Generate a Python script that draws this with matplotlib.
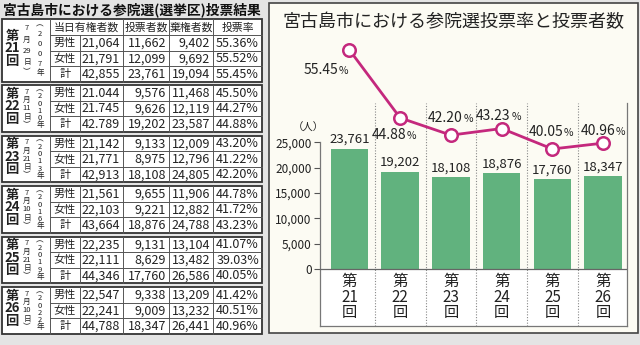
import matplotlib
matplotlib.use("Agg")
import matplotlib.pyplot as plt
from matplotlib.patches import Rectangle
import numpy as np

plt.rcParams["font.family"] = ["Noto Sans CJK JP", "DejaVu Sans"]

# 回次と投票日
ROUNDS = [21, 22, 23, 24, 25, 26]
YEARS = ["2007", "2010", "2013", "2016", "2019", "2022"]
MONTHS = ["7", "7", "7", "7", "7", "7"]
DAYS = ["29", "11", "21", "10", "21", "10"]

HEADERS = ["当日有権者数", "投票者数", "棄権者数", "投票率"]
ROW_NAMES = ["男性", "女性", "計"]

# 各回: 男性・女性・計 × (当日有権者数, 投票者数, 棄権者数, 投票率)
TABLE_21 = [["21,064", "11,662", "9,402", "55.36%"],
            ["21,791", "12,099", "9,692", "55.52%"],
            ["42,855", "23,761", "19,094", "55.45%"]]
TABLE_22 = [["21.044", "9,576", "11,468", "45.50%"],
            ["21.745", "9,626", "12,119", "44.27%"],
            ["42.789", "19,202", "23,587", "44.88%"]]
TABLE_23 = [["21,142", "9,133", "12,009", "43.20%"],
            ["21,771", "8,975", "12,796", "41.22%"],
            ["42,913", "18,108", "24,805", "42.20%"]]
TABLE_24 = [["21,561", "9,655", "11,906", "44.78%"],
            ["22,103", "9,221", "12,882", "41.72%"],
            ["43,664", "18,876", "24,788", "43.23%"]]
TABLE_25 = [["22,235", "9,131", "13,104", "41.07%"],
            ["22,111", "8,629", "13,482", "39.03%"],
            ["44,346", "17,760", "26,586", "40.05%"]]
TABLE_26 = [["22,547", "9,338", "13,209", "41.42%"],
            ["22,241", "9,009", "13,232", "40.51%"],
            ["44,788", "18,347", "26,441", "40.96%"]]
TABLES = [TABLE_21, TABLE_22, TABLE_23, TABLE_24, TABLE_25, TABLE_26]

# グラフ用 (計)
VOTERS_TOTAL = [23761, 19202, 18108, 18876, 17760, 18347]
TURNOUT_TOTAL = [55.45, 44.88, 42.20, 43.23, 40.05, 40.96]
Y_TICKS = [0, 5000, 10000, 15000, 20000, 25000]

GREEN = "#61b27e"
MAGENTA = "#c4287d"
INK = "#222222"
RULE = "#555555"

fig = plt.figure(figsize=(6.4, 3.45), dpi=100)
fig.patch.set_facecolor("#e4e4e4")

# ピクセル座標の下地
bg = fig.add_axes([0, 0, 1, 1])
bg.set_xlim(0, 640)
bg.set_ylim(345, 0)
bg.axis("off")

# ---- 左: 投票結果の表 ----
bg.text(3, 10, "宮古島市における参院選(選挙区)投票結果", fontsize=9.9,
        fontweight="bold", ha="left", va="center", color="#111")

cols = [2, 50, 80, 123, 169, 213, 262]
tops = [19, 85, 135.5, 186, 236.5, 287]
head_h, row_h = 16, 15.5

for b, (top, tbl) in enumerate(zip(tops, TABLES)):
    has_head = b == 0
    data_top = top + (head_h if has_head else 0)
    bottom = data_top + 3 * row_h
    bg.add_patch(Rectangle((cols[0], top), cols[-1] - cols[0], bottom - top,
                           facecolor="white", edgecolor="#333", lw=1.3, zorder=1))
    # 縦罫
    for x in cols[1:-1]:
        y0 = data_top if x == cols[2] else top
        bg.plot([x, x], [y0, bottom], color=RULE, lw=0.7, zorder=2)
    # 横罫
    ys = [data_top + i * row_h for i in range(1, 3)]
    if has_head:
        ys.append(data_top)
    for y in ys:
        bg.plot([cols[1], cols[-1]], [y, y], color=RULE, lw=0.7, zorder=2)

    if has_head:
        for c, h in enumerate(HEADERS):
            x0 = cols[1] if c == 0 else cols[c + 2]
            bg.text((x0 + cols[c + 3]) / 2, top + head_h / 2 + 0.5, h,
                    fontsize=7.8, ha="center", va="center", color=INK, zorder=3)

    for r, (name, vals) in enumerate(zip(ROW_NAMES, tbl)):
        yc = data_top + (r + 0.5) * row_h + 0.5
        bg.text((cols[1] + cols[2]) / 2, yc, name, fontsize=8,
                ha="center", va="center", color=INK, zorder=3)
        for c, v in enumerate(vals):
            bg.text(cols[c + 3] - 3, yc, v, fontsize=9, ha="right",
                    va="center", color=INK, zorder=3)

    # 回次と日付 (縦書き)
    h = bottom - top
    bg.text(12, (top + bottom) / 2 - 2, f"第\n{ROUNDS[b]}\n回", fontsize=9.5,
            fontweight="bold", ha="center", va="center", linespacing=0.85,
            color=INK, zorder=3)
    right_col = ["︵"] + list(YEARS[b]) + ["年"]
    for ch, y in zip(right_col, np.linspace(top + 0.09 * h, bottom - 0.13 * h,
                                            len(right_col))):
        bg.text(40, y, ch, fontsize=5.5, ha="center", va="center",
                color=INK, zorder=3)
    left_col = [MONTHS[b], "月", DAYS[b], "日", "︶"]
    for ch, y in zip(left_col, np.linspace(top + 0.15 * h, bottom - 0.14 * h,
                                           len(left_col))):
        bg.text(27, y, ch, fontsize=5.5, ha="center", va="center",
                color=INK, zorder=3)

# ---- 右: グラフ ----
bg.add_patch(Rectangle((269, 3), 369, 330, facecolor="#fcfbf3",
                       edgecolor="#444", lw=1.2, zorder=0))
bg.text(453, 22, "宮古島市における参院選投票率と投票者数", fontsize=13,
        ha="center", va="center", color=INK)
bg.text(308, 128, "（人）", fontsize=7.5, ha="center", va="center", color=INK)

ax = fig.add_axes([320 / 640, 19 / 345, 307 / 640, 223 / 345])
ax.patch.set_alpha(0)
ylo, yhi = -11265, 32806
ax.set_xlim(-0.58, 5.47)
ax.set_ylim(ylo, yhi)

x = np.arange(len(ROUNDS))
ax.axhspan(ylo, 0, color="white", zorder=0)
for k in range(len(ROUNDS) - 1):
    ax.axvline(k + 0.5, color="#888", lw=0.8, ls=(0, (1, 1.5)), zorder=1)
ax.axhline(0, color="#666", lw=0.9, zorder=3)

bars = ax.bar(x, VOTERS_TOTAL, width=0.74, color=GREEN, zorder=2)
ax.bar_label(bars, fmt="{:,.0f}", padding=2, fontsize=9.5, color=INK)

for i, r in enumerate(ROUNDS):
    ax.text(i, -5534, f"第\n{r}\n回", fontsize=11, ha="center", va="center",
            linespacing=0.92, color=INK)

ax.spines["top"].set_visible(False)
for side in ["left", "right", "bottom"]:
    ax.spines[side].set_color("#777")
    ax.spines[side].set_linewidth(0.9)
ax.spines["left"].set_bounds(ylo, 25000)
ax.set_xticks([])
ax.set_yticks(Y_TICKS)
ax.set_yticklabels([f"{v:,}" for v in Y_TICKS])
ax.tick_params(axis="y", length=4, width=0.8, color="#555", labelsize=8.5,
               pad=2, labelcolor=INK)

# 投票率の折れ線
ax2 = ax.twinx()
ax2.set_ylim(12.52, 47.2)
ax2.axis("off")
ax2.plot(x, TURNOUT_TOTAL, color=MAGENTA, lw=2, marker="o", ms=9,
         mfc="white", mec=MAGENTA, mew=1.8, clip_on=False, zorder=5)

label_offsets = [(-22, -20), (-5, -17), (1, 17), (-2, 13), (0, 17), (1, 12)]
for xi, v, (dx, dy) in zip(x, TURNOUT_TOTAL, label_offsets):
    ax2.annotate(f"{v:.2f}", (xi, v), xytext=(dx + 11, dy - 4),
                 textcoords="offset pixels", ha="right", va="baseline",
                 fontsize=10, color=INK, annotation_clip=False)
    ax2.annotate("%", (xi, v), xytext=(dx + 11.5, dy - 4),
                 textcoords="offset pixels", ha="left", va="baseline",
                 fontsize=7.5, color=INK, annotation_clip=False)

fig.savefig("out.png", dpi=100, facecolor=fig.get_facecolor())
